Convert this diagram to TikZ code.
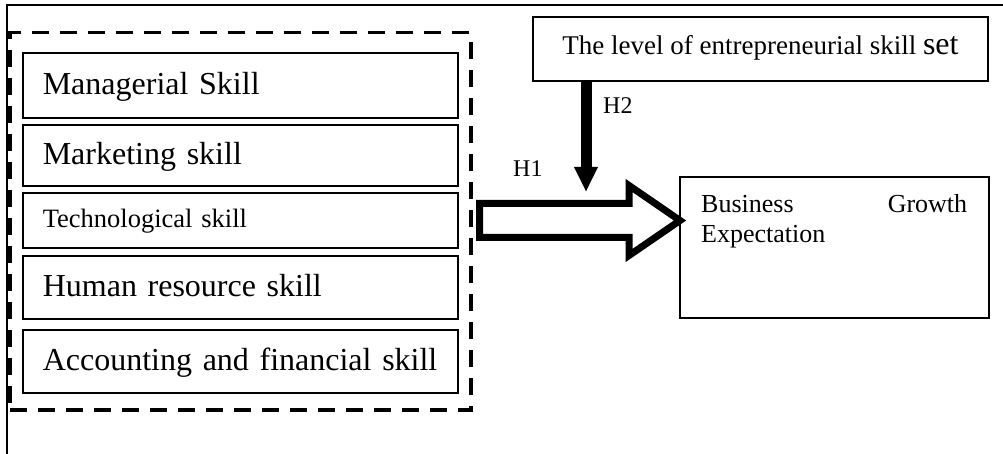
\documentclass[tikz,border=0pt]{standalone}
\usepackage{fontspec}
\setmainfont{Liberation Serif}
\usepackage{tikz}
\usetikzlibrary{calc,arrows.meta}

\tikzset{
	skillbox/.style={draw, line width=1.6pt, anchor=north west, minimum width=435pt,
		text width=395pt, inner xsep=20pt, align=left,
		text height=24pt, text depth=6.4pt, font=\fontsize{32}{38}\selectfont},
	groupbox/.style={draw, line width=3.5pt, dash pattern=on 17pt off 11pt, anchor=north west},
	plainbox/.style={draw, line width=1.6pt},
	hollowarrow/.style={draw, fill=white, line width=7pt, miter limit=10},
	solidarrow/.style={line width=11pt, -{Triangle[length=25pt, width=22pt]}},
	hlabel/.style={anchor=base west, inner sep=0pt, font=\fontsize{24}{28}\selectfont}
}

\begin{document}
\begin{tikzpicture}[x=1pt, y=-1pt]
		\useasboundingbox (0,0) rectangle (1003,454);
		%----------------------------------------------------
		% frame of the figure
		%----------------------------------------------------
		\draw [line width=2pt] (1003,5) -- (7,5) -- (7,454);
		
		%----------------------------------------------------
		% the skill boxes inside the dashed group
		%----------------------------------------------------
		\node [groupbox, minimum width=461pt, minimum height=377pt] (skills) at (8,31) {};
		\node [skillbox, minimum height=65pt] (managerial) at (22,52) {Managerial Skill};
		\node [skillbox, minimum height=61pt] (marketing) at (22,124) {Marketing skill};
		\node [skillbox, minimum height=55pt, text height=19.9pt, text depth=5.3pt,
			font=\fontsize{26.5}{30}\selectfont] (technological) at (22,192) {Technological skill};
		\node [skillbox, minimum height=63pt] (human) at (22,255) {Human resource skill};
		\node [skillbox, minimum height=63pt] (accounting) at (22,329) {Accounting and financial skill};
		
		%----------------------------------------------------
		% moderator and outcome
		%----------------------------------------------------
		\node [plainbox, minimum width=455pt, minimum height=64pt, text height=17.8pt, text depth=5.9pt,
			font=\fontsize{27}{32}\selectfont] (level) at (760.5,49)
			{The level of entrepreneurial skill {\fontsize{32}{38}\selectfont set}};
		\node [plainbox, anchor=north west, minimum width=309pt, minimum height=141pt] (growth) at (679,176) {};
		\node [anchor=north west, inner sep=0pt, text width=266pt, align=justify,
			font=\fontsize{26}{30}\selectfont] (growthtext) at (701,194)
			{Business Growth \mbox{Expectation}};
		
		%----------------------------------------------------
		% H1 (hollow arrow) and H2
		%----------------------------------------------------
		\coordinate (h1tail) at (479.5,220.5);
		\coordinate (h1tip) at (680,220.5);
		\draw [hollowarrow] ($(h1tail)+(0,-17)$) -- ($(h1tip)+(-51,-17)$) -- ($(h1tip)+(-51,-35)$)
			-- (h1tip) -- ($(h1tip)+(-51,35)$) -- ($(h1tip)+(-51,17)$) -- ($(h1tail)+(0,17)$) -- cycle;
		\node [hlabel] (h1) at (513,177) {H1};
		
		\coordinate (h2tip) at (586,192);
		\draw [solidarrow] (level.south -| h2tip) -- (h2tip);
		\node [hlabel] (h2) at (603,114) {H2};
\end{tikzpicture}
\end{document}
